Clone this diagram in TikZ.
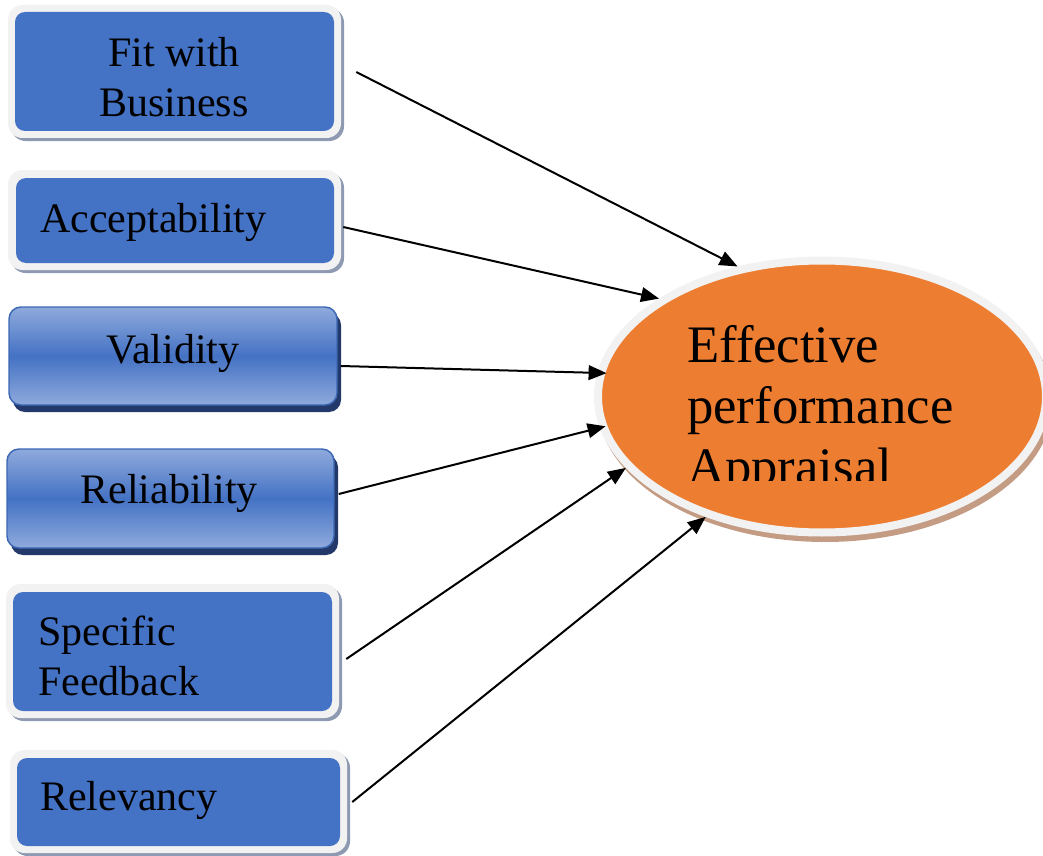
\documentclass[tikz,border=0pt]{standalone}
\usepackage{fontspec}
\setmainfont{Liberation Serif}
\usetikzlibrary{arrows.meta,shapes.geometric,calc}
\definecolor{boxblue}{HTML}{4472C4}
\definecolor{lightblue}{HTML}{8FAADC}
\definecolor{gradedge}{HTML}{3C67B4}
\definecolor{navyshadow}{HTML}{22396A}
\definecolor{rimgray}{HTML}{F2F2F2}
\definecolor{greyshadow}{HTML}{8E9AB2}
\definecolor{orangefill}{HTML}{ED7D31}
\definecolor{brownshadow}{HTML}{C49C84}
\def\px{0.75pt}
\tikzset{
  flatbox/.style={rectangle, rounded corners=7.5pt, fill=boxblue, inner sep=0pt},
  rim/.style={fill=rimgray, rounded corners=11pt},
  greyshade/.style={fill=greyshadow, rounded corners=11pt},
  gradbox/.style={rectangle, rounded corners=9pt, top color=lightblue, bottom color=lightblue, middle color=boxblue, draw=gradedge, line width=1.1pt, inner sep=0pt},
  navyshade/.style={fill=navyshadow, rounded corners=9pt},
  boxtext/.style={font=\fontsize{31.5}{37.5}\selectfont, inner sep=0pt},
  bigtext/.style={font=\fontsize{39.5}{45.75}\selectfont, inner sep=0pt, align=left},
  link/.style={-{Triangle[length=13.5pt,width=11pt]}, line width=1.5pt, black}
}
\begin{document}
\begin{tikzpicture}[x=0.75pt,y=-0.75pt]
\useasboundingbox (0,0) rectangle (1043,856);
% box 1
\fill[greyshade] (11,8) rectangle (344,141);
\fill[rim] (8,5) rectangle (341,138);
\node[flatbox, minimum width=319*\px, minimum height=119*\px] (b1) at (174.5,71.5) {};
\node[boxtext, align=center, anchor=base] (t1) at (174,117) {Fit with\\Business};
% box 2
\fill[greyshade] (11,173) rectangle (344,273);
\fill[rim] (8,170) rectangle (341,270);
\node[flatbox, minimum width=318*\px, minimum height=85*\px] (b2) at (175,220.5) {};
\node[boxtext, anchor=base west] (t2) at (40,232) {Acceptability};
% box 3
\fill[navyshade] (13,313) rectangle (341,412);
\node[gradbox, minimum width=328*\px, minimum height=98*\px] (b3) at (173,356) {};
\node[boxtext, anchor=base] (t3) at (173,363) {Validity};
% box 4
\fill[navyshade] (11,455) rectangle (338,555);
\node[gradbox, minimum width=327*\px, minimum height=99*\px] (b4) at (170.5,498.5) {};
\node[boxtext, anchor=base] (t4) at (169,503) {Reliability};
% box 5
\fill[greyshade] (9,587) rectangle (342,721);
\fill[rim] (6,584) rectangle (339,718);
\node[flatbox, minimum width=319*\px, minimum height=119*\px] (b5) at (172.5,651.5) {};
\node[boxtext, align=left, anchor=base west] (t5) at (38,695) {Specific\\Feedback};
% box 6
\fill[greyshade] (13,753) rectangle (350,856);
\fill[rim] (10,750) rectangle (347,853);
\node[flatbox, minimum width=323*\px, minimum height=88*\px] (b6) at (178.5,802) {};
\node[boxtext, anchor=base west] (t6) at (40,810) {Relevancy};
% ellipse
\fill[brownshadow] (825,402) ellipse [x radius=228, y radius=140];
\node[ellipse, fill=orangefill, draw=rimgray, line width=6pt, minimum width=448*\px, minimum height=272*\px, inner sep=0pt] (e) at (822,396.5) {};
\begin{scope}
\clip (600,250) rectangle (1043,480);
\node[bigtext, anchor=base west] (te) at (687,484) {Effective\\performance\\Appraisal};
\end{scope}
% connectors
\draw[link] ($(b1.east)+(22,0.5)$) -- (e.123);
\draw[link] ($(b2.east)+(9,6.5)$) -- (e.149.2);
\draw[link, shorten >=-7pt] ($(b3.east)+(3,10)$) -- (e.174);
\draw[link, shorten >=-4.5pt] ($(b4.east)+(4,-4.5)$) -- (e.188.6);
\draw[link] ($(b5.east)+(14,7.5)$) -- (e.200.2);
\draw[link] ($(b6.east)+(12,0)$) -- (e.226.5);
\end{tikzpicture}
\end{document}
